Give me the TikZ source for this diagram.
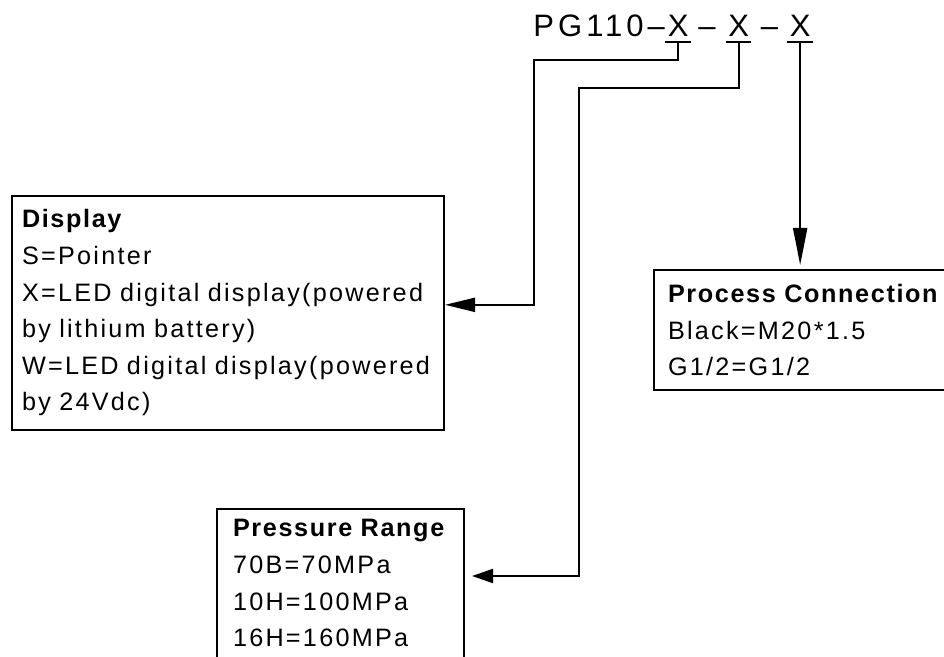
\documentclass[tikz,border=0pt]{standalone}
\usepackage{fontspec}
\setmainfont{Liberation Sans}
\newfontfamily\specfont{Liberation Sans}[LetterSpace=9,BoldFeatures={LetterSpace=6.5}]
\newfontfamily\modelfont{Liberation Sans}[LetterSpace=13]
\usetikzlibrary{positioning,arrows.meta}
\tikzset{
  spec-box/.style={draw,line width=1pt,anchor=north west,align=left,
    font=\specfont\fontsize{12.6}{18.3}\selectfont,inner ysep=6.8pt},
  model-text/.style={font=\modelfont\fontsize{15.5}{17}\selectfont,inner sep=0pt},
  code-x/.style={model-text,inner xsep=1pt,text depth=2.5pt},
  code-rule/.style={line width=1pt},
  link/.style={line width=1pt,-{Triangle[length=#1,width=7pt]}},
  link/.default=15pt,
}

\begin{document}
\begin{tikzpicture}[x=0.5pt,y=-0.5pt]
  \clip (0,0) rectangle (944,657);
  % model code
  \node[model-text,anchor=base west] (model) at (533,37) {PG110–};
  \node[code-x,base right=0pt of model] (codeA) {X};
  \node[model-text,base right=3.5pt of codeA] (dashA) {–};
  \node[code-x,base right=5pt of dashA] (codeB) {X};
  \node[model-text,base right=4.5pt of codeB] (dashB) {–};
  \node[code-x,base right=4.5pt of dashB] (codeC) {X};
  \foreach \c in {codeA,codeB,codeC}
    \draw[code-rule] (\c.south west) -- (\c.south east);

  % option boxes
  \node[spec-box,text width=206pt,inner xsep=5pt] (display) at (11,195)
    {\textbf{Display}\\S=Pointer\\X=LED~digital~display(powered\\
     by~lithium~battery)\\W=LED~digital~display(powered\\by~24Vdc)};
  \node[spec-box,text width=170pt,inner xsep=7pt,minimum height=60pt] (process) at (653,269)
    {\textbf{Process~Connection}\\Black=M20*1.5\\G1/2=G1/2};
  \node[spec-box,text width=107.5pt,inner xsep=8pt,inner ysep=5.3pt] (pressure) at (216,508)
    {\textbf{Pressure~Range}\\70B=70MPa\\10H=100MPa\\16H=160MPa\rule[-20pt]{0pt}{1pt}};

  % leaders
  \coordinate (bendA) at (534,60);
  \coordinate (bendB) at (579,88);
  \coordinate (pressIn) at (472,576);
  \draw[link=15pt] (codeA.south) |- (bendA) |- ([yshift=4pt]display.east);
  \draw[link=10.5pt] (codeB.south) |- (bendB) |- (pressIn);
  \draw[link=18.5pt,shorten >=2pt] (codeC.south) -- (codeC.south |- process.north);
\end{tikzpicture}
\end{document}
